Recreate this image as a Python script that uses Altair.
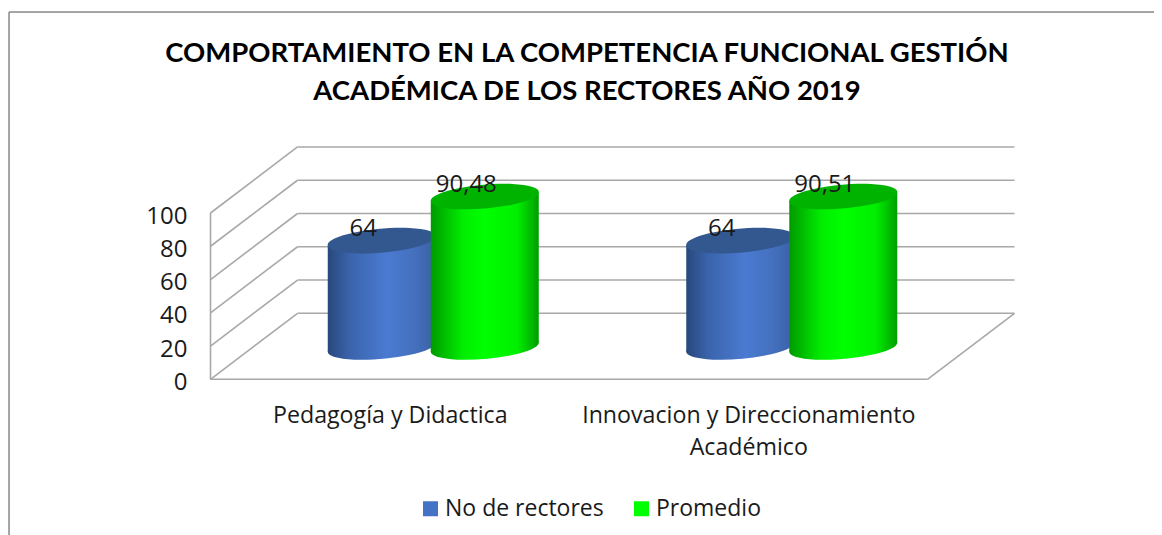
import altair as alt
import pandas as pd

CATEGORIES = ["Pedagogía y Didactica", "Innovacion y Direccionamiento Académico"]
SERIES = ["No de rectores", "Promedio"]
RECTORES = [64, 64]
PROMEDIO = [90.48, 90.51]
RECTORES_LABELS = ["64", "64"]
PROMEDIO_LABELS = ["90,48", "90,51"]
TICKS = [0, 20, 40, 60, 80, 100]
TITLE = ["COMPORTAMIENTO EN LA COMPETENCIA FUNCIONAL GESTIÓN",
         "ACADÉMICA DE LOS RECTORES AÑO 2019"]

W, H = 1145, 523
DEPTH_X, DEPTH_Y = 0.2427, 39.7      # 3-D box depth in category / value units
BASE = 19.4                          # cylinder foot (value units above the front floor edge)
BAR_OFFSET = 0.1437                  # cylinder centre offset from the category centre
HALF_W = 0.1506                      # cylinder half width
TILT = 2.7                           # value units the ellipse rises from centre to its right end
ELLIPSE = ("M-1,0.083 A1.004,0.215 -5 1,1 1,-0.083 "
           "A1.004,0.215 -5 1,1 -1,0.083 Z")
ELLIPSE_SIZE = 11664


def grad(stops):
    return alt.LinearGradient(
        gradient="linear", x1=0, x2=1, y1=0, y2=0,
        stops=[alt.GradientStop(offset=o, color=c) for o, c in stops],
    )


BLUE = grad([(0, "#28487c"), (0.2, "#3a63ab"), (0.55, "#4a7bd2"), (0.8, "#4470bd"), (1, "#3a60a6")])
GREEN = grad([(0, "#009a00"), (0.3, "#00ee00"), (0.5, "#00ff00"), (0.8, "#00ee00"), (1, "#009e00")])
BLUE_TOP, GREEN_TOP = "#33578f", "#00b300"
LINE = "#a8a8a8"
BORDER = "#8c8c8c"
FONT = "Open Sans"
TITLE_FONT = "Lato"

X_LO, X_HI = -201.5 / 358.5, (W - 201.5) / 358.5
Y_LO, Y_HI = -(H - 367.3) / 1.663, 367.3 / 1.663
x_scale = alt.Scale(domain=[X_LO, X_HI], nice=False, zero=False)
y_scale = alt.Scale(domain=[Y_LO, Y_HI], nice=False, zero=False)

X = alt.X(
    "x:Q", scale=x_scale, title=None,
    axis=alt.Axis(
        values=[0.5, 1.5], domain=False, ticks=False, grid=False, offset=392 - H, labelPadding=0,
        labelFont=FONT, labelFontSize=23.2, labelColor="#1a1a1a", labelLineHeight=32, labelLimit=500,
        labelBaseline="top", labelFlush=False, labelOverlap=False, labelAlign="center",
        labelExpr=f"datum.value < 1 ? '{CATEGORIES[0]}' : "
                  "['Innovacion y Direccionamiento', 'Académico']",
    ),
)
Y = alt.Y(
    "y:Q", scale=y_scale, title=None,
    axis=alt.Axis(
        values=TICKS, domain=False, ticks=False, grid=False, offset=-178, labelPadding=0,
        labelFont=FONT, labelFontSize=24, labelColor="#1a1a1a", labelOffset=3, labelFlush=False,
    ),
)

# Chart-area border (left and top only reach the picture)
border = alt.Chart(pd.DataFrame([
    dict(x=X_LO, x2=X_LO, y=Y_LO, y2=Y_HI),
    dict(x=X_LO, x2=X_HI, y=Y_HI, y2=Y_HI),
])).mark_rule(color=BORDER, strokeWidth=1.5).encode(x=X, x2="x2:Q", y=Y, y2="y2:Q")

# 3-D frame lines
rows = []
for v in TICKS:
    rows.append(dict(x=0, x2=DEPTH_X, y=v, y2=v + DEPTH_Y))
    rows.append(dict(x=DEPTH_X, x2=2 + DEPTH_X, y=v + DEPTH_Y, y2=v + DEPTH_Y))
rows.append(dict(x=0, x2=0, y=0, y2=100))
rows.append(dict(x=0, x2=2, y=0, y2=0))
rows.append(dict(x=2, x2=2 + DEPTH_X, y=0, y2=DEPTH_Y))
frame = alt.Chart(pd.DataFrame(rows)).mark_rule(color=LINE, strokeWidth=1.6).encode(
    x=X, x2="x2:Q", y=Y, y2="y2:Q"
)


def centres(sign):
    return [i + 0.5 + DEPTH_X / 2 + sign * BAR_OFFSET for i in range(len(CATEGORIES))]


def cylinder(values, sign, body_fill, top_fill):
    cx = centres(sign)
    foot = pd.DataFrame({"x": cx, "y": [BASE] * len(cx)})
    head = pd.DataFrame({"x": cx, "y": [BASE + v for v in values]})
    edge = []
    for i, (c, v) in enumerate(zip(cx, values)):
        edge.append(dict(c=i, x=c - HALF_W, y=BASE - TILT, y2=BASE + v - TILT))
        edge.append(dict(c=i, x=c + HALF_W, y=BASE + TILT, y2=BASE + v + TILT))
    pt = dict(shape=ELLIPSE, size=ELLIPSE_SIZE, filled=True, opacity=1, strokeWidth=0)
    return [
        alt.Chart(foot).mark_point(fill=body_fill, **pt).encode(x=X, y=Y),
        alt.Chart(pd.DataFrame(edge)).mark_area(fill=body_fill, opacity=1).encode(
            x=X, y=Y, y2="y2:Q", detail="c:N"
        ),
        alt.Chart(head).mark_point(fill=top_fill, **pt).encode(x=X, y=Y),
    ]


def labels(values, texts, sign):
    df = pd.DataFrame({"x": centres(sign), "y": [BASE + v for v in values], "t": texts})
    return alt.Chart(df).mark_text(
        font=FONT, fontSize=24, color="#1a1a1a", dx=-18.5, dy=-12, align="center", baseline="middle"
    ).encode(x=X, y=Y, text="t:N")


legend_df = pd.DataFrame({"s": SERIES, "x": [0, 0], "y": [0, 0]})
legend_layer = alt.Chart(legend_df).mark_point(filled=True, size=0, shape="square").encode(
    x=X, y=Y,
    color=alt.Color(
        "s:N", sort=SERIES,
        scale=alt.Scale(domain=SERIES, range=["#4472c4", "#00ff00"]),
        legend=alt.Legend(
            title=None, orient="none", legendX=410, legendY=485, direction="horizontal",
            columns=2, symbolType="square", symbolSize=225, symbolOpacity=1, symbolStrokeWidth=0,
            labelOffset=3, labelFont=FONT, labelFontSize=23, labelColor="#1a1a1a", labelLimit=300,
            columnPadding=26,
        ),
    ),
)

chart = alt.layer(
    border,
    frame,
    *cylinder(RECTORES, -1, BLUE, BLUE_TOP),
    *cylinder(PROMEDIO, 1, GREEN, GREEN_TOP),
    labels(RECTORES, RECTORES_LABELS, -1),
    labels(PROMEDIO, PROMEDIO_LABELS, 1),
    legend_layer,
).properties(
    width=W, height=H,
    autosize=alt.AutoSizeParams(type="none"),
    padding={"left": 1, "top": 4, "right": 0, "bottom": 0},
    title=alt.TitleParams(
        text=TITLE, font=TITLE_FONT, fontSize=27.5, fontWeight="bold", color="#000000",
        anchor="middle", offset=-94, lineHeight=38, dx=5.5,
    ),
).configure_view(stroke=None).configure(background="white")

chart.save("out.html", embed_options={"renderer": "svg", "actions": False})
